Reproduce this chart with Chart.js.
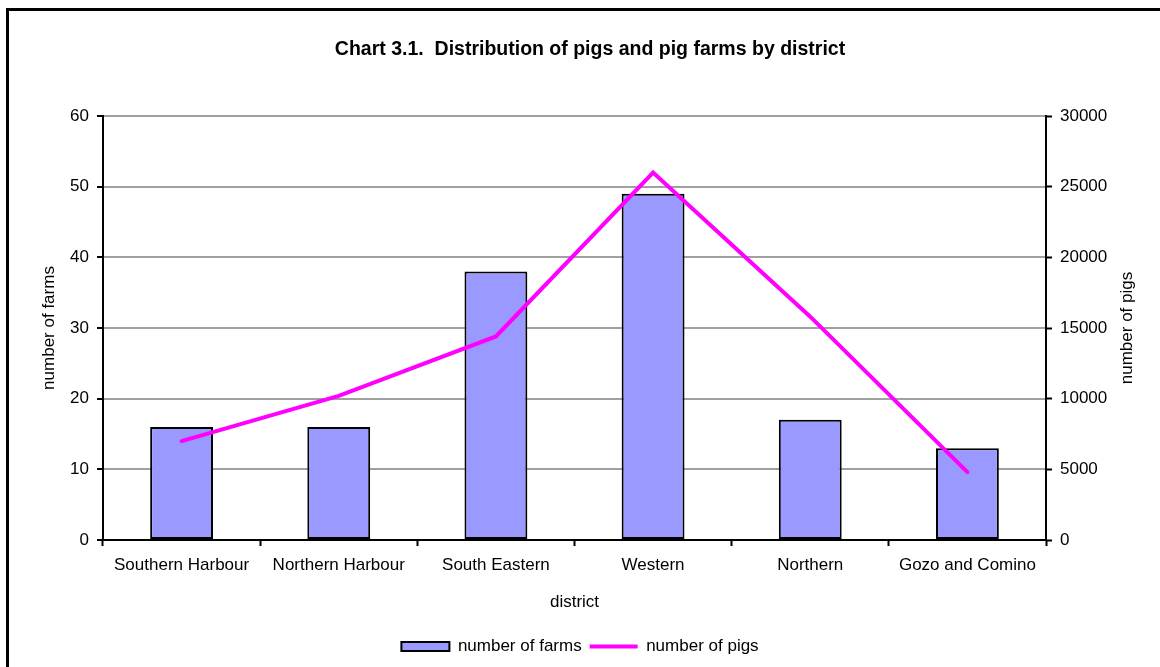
<!DOCTYPE html>
<html><head><meta charset="utf-8">
<script src="https://cdn.jsdelivr.net/npm/chart.js@4.4.1/dist/chart.umd.min.js"></script>
<style>html,body{margin:0;padding:0;background:#fff;overflow:hidden}#wrap{width:1160px;height:667px;position:relative}</style>
</head><body><div id="wrap"><canvas id="c" width="1160" height="667"></canvas></div>
<script>
const categories = ['Southern Harbour', 'Northern Harbour', 'South Eastern', 'Western', 'Northern', 'Gozo and Comino'];
const farms = [16, 16, 38, 49, 17, 13];
const pigs = [7000, 10200, 14400, 26000, 15800, 4800];
const farmTicks = [0, 10, 20, 30, 40, 50, 60];
const pigTicks = [0, 5000, 10000, 15000, 20000, 25000, 30000];
const chartTitle = 'Chart 3.1.  Distribution of pigs and pig farms by district';
const xTitle = 'district';
const yTitle = 'number of farms';
const y1Title = 'number of pigs';

const FAMILY = '"Liberation Sans", Arial, Helvetica, sans-serif';
const F17 = {family: FAMILY, size: 17};

const decor = {
  id: 'decor',
  beforeDraw(chart) {
    const ctx = chart.ctx;
    ctx.save();
    ctx.fillStyle = '#fff';
    ctx.fillRect(0, 0, chart.width, chart.height);
    ctx.fillStyle = '#000';
    ctx.fillRect(6, 8, 3, chart.height);
    ctx.fillRect(6, 8, chart.width, 3);
    ctx.restore();
  },
  afterDraw(chart) {
    const ctx = chart.ctx;
    const ca = chart.chartArea;
    ctx.save();
    ctx.fillStyle = '#000';
    ctx.font = 'bold 19.5px ' + FAMILY;
    ctx.textAlign = 'center';
    ctx.textBaseline = 'alphabetic';
    ctx.fillText(chartTitle, 590, 55);
    ctx.font = '17px ' + FAMILY;
    ctx.translate(1127, (ca.top + ca.bottom) / 2);
    ctx.rotate(-Math.PI / 2);
    ctx.textBaseline = 'middle';
    ctx.fillText(y1Title, 0, 0);
    ctx.restore();
  }
};

const styles = {0: 'line', 1: 'rect'};

new Chart(document.getElementById('c'), {
  type: 'bar',
  data: {
    labels: categories,
    datasets: [
      {
        type: 'line',
        label: y1Title,
        data: pigs,
        yAxisID: 'y1',
        borderColor: '#FF00FF',
        backgroundColor: '#FF00FF',
        borderWidth: 4,
        borderCapStyle: 'round',
        borderJoinStyle: 'miter',
        pointRadius: 0,
        pointHoverRadius: 0,
        pointBorderWidth: 4,
        pointStyle: 'line',
        tension: 0
      },
      {
        type: 'bar',
        label: yTitle,
        data: farms,
        yAxisID: 'y',
        backgroundColor: '#9999FF',
        borderColor: '#000000',
        borderWidth: 2,
        borderSkipped: false,
        categoryPercentage: 1,
        barPercentage: 0.4
      }
    ]
  },
  options: {
    responsive: false,
    animation: false,
    devicePixelRatio: 1,
    layout: {padding: {top: 116, left: 0, right: 0, bottom: 2}},
    plugins: {
      title: {display: false},
      tooltip: {enabled: false},
      legend: {
        display: true,
        position: 'bottom',
        reverse: true,
        labels: {
          usePointStyle: true,
          pointStyleWidth: 48,
          boxHeight: 9,
          padding: 8,
          color: '#000',
          font: F17,
          generateLabels(chart) {
            const base = Chart.defaults.plugins.legend.labels.generateLabels(chart);
            return base.map(it => {
              const ds = chart.data.datasets[it.datasetIndex];
              if (ds.type === 'line') {
                it.pointStyle = 'line';
                it.strokeStyle = ds.borderColor;
                it.lineWidth = 4;
                it.lineCap = 'butt';
              } else {
                it.pointStyle = 'rect';
                it.fillStyle = ds.backgroundColor;
                it.strokeStyle = ds.borderColor;
                it.lineWidth = 2;
              }
              return it;
            });
          }
        }
      }
    },
    scales: {
      x: {
        type: 'category',
        offset: true,
        grid: {display: true, offset: true, drawOnChartArea: false, drawTicks: true, tickLength: 6, tickColor: '#000', tickWidth: 2},
        border: {display: true, color: '#000', width: 2},
        ticks: {color: '#000', font: F17, padding: 9, maxRotation: 0, minRotation: 0, autoSkip: false},
        title: {display: true, text: xTitle, color: '#000', font: F17, padding: {top: 0, bottom: 17}},
        afterFit(s) { s.height = 90; }
      },
      y: {
        position: 'left',
        min: farmTicks[0],
        max: farmTicks[farmTicks.length - 1],
        afterBuildTicks(s) { s.ticks = farmTicks.map(v => ({value: v})); },
        grid: {color: '#a0a0a0', lineWidth: 2, drawTicks: true, tickLength: 6, tickColor: '#000', tickWidth: 2},
        border: {display: true, color: '#000', width: 2},
        ticks: {color: '#000', font: F17, padding: 8},
        title: {display: true, text: yTitle, color: '#000', font: F17, padding: {top: 39, bottom: 0}},
        afterFit(s) { s.width = 103; }
      },
      y1: {
        position: 'right',
        min: pigTicks[0],
        max: pigTicks[pigTicks.length - 1],
        afterBuildTicks(s) { s.ticks = pigTicks.map(v => ({value: v})); },
        grid: {drawOnChartArea: false, drawTicks: true, tickLength: 6, tickColor: '#000', tickWidth: 2},
        border: {display: true, color: '#000', width: 2},
        ticks: {color: '#000', font: F17, padding: 8, callback: v => String(v)},
        title: {display: false},
        afterFit(s) { s.width = 114; }
      }
    }
  },
  plugins: [decor]
});
</script>
</body></html>
